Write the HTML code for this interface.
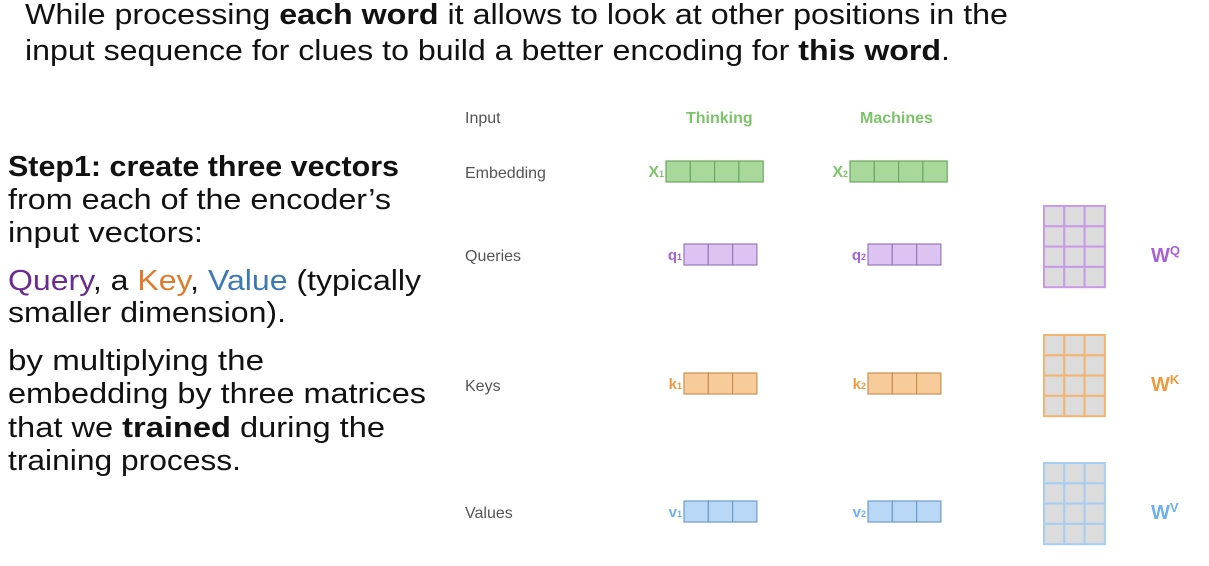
<!DOCTYPE html>
<html><head><meta charset="utf-8"><style>
html,body{margin:0;padding:0;background:#fff;width:1209px;height:566px;overflow:hidden}
svg{display:block}
.t{font-family:"Liberation Sans",sans-serif;font-size:29px;fill:#111}
.lab{font-family:"Liberation Sans",sans-serif;font-size:16px;fill:#555}
.hd{font-family:"Liberation Sans",sans-serif;font-size:16px;font-weight:bold;fill:#7dc36a}
</style></head><body>
<svg width="1209" height="566">
<g>
<text class="t" x="25" y="24" textLength="983" lengthAdjust="spacingAndGlyphs">While processing <tspan font-weight="bold">each word</tspan> it allows to look at other positions in the</text>
<text class="t" x="25" y="60" textLength="925" lengthAdjust="spacingAndGlyphs">input sequence for clues to build a better encoding for <tspan font-weight="bold">this word</tspan>.</text>
</g>
<g>
<text class="t" x="8" y="176" font-weight="bold" textLength="391" lengthAdjust="spacingAndGlyphs">Step1: create three vectors</text>
<text class="t" x="8" y="209" textLength="383" lengthAdjust="spacingAndGlyphs">from each of the encoder’s</text>
<text class="t" x="8" y="242" textLength="195" lengthAdjust="spacingAndGlyphs">input vectors:</text>
<text class="t" x="8" y="290" textLength="413" lengthAdjust="spacingAndGlyphs"><tspan fill="#6a2c91">Query</tspan>, a <tspan fill="#e07b2e">Key</tspan>, <tspan fill="#3c78b4">Value</tspan>  (typically</text>
<text class="t" x="8" y="322" textLength="278" lengthAdjust="spacingAndGlyphs">smaller dimension).</text>
<text class="t" x="8" y="370" textLength="256" lengthAdjust="spacingAndGlyphs">by multiplying the</text>
<text class="t" x="8" y="403" textLength="418" lengthAdjust="spacingAndGlyphs">embedding by three matrices</text>
<text class="t" x="8" y="437" textLength="377" lengthAdjust="spacingAndGlyphs">that we <tspan font-weight="bold">trained</tspan> during the</text>
<text class="t" x="8" y="470" textLength="233" lengthAdjust="spacingAndGlyphs">training process.</text>
</g>
<g>
<text class="lab" x="465" y="123">Input</text>
<text class="lab" x="465" y="178">Embedding</text>
<text class="lab" x="465" y="261">Queries</text>
<text class="lab" x="465" y="391">Keys</text>
<text class="lab" x="465" y="518">Values</text>
</g>
<text class="hd" x="686" y="123">Thinking</text>
<text class="hd" x="860" y="123">Machines</text>
<g id="vecs"></g>
<g id="mats"></g>
<g font-family="Liberation Sans,sans-serif" font-weight="bold">
<text x="1151" y="262" font-size="20" fill="#a661d6">W<tspan font-size="13" dy="-7">Q</tspan></text>
<text x="1151" y="391" font-size="20" fill="#ee9a3e">W<tspan font-size="13" dy="-7">K</tspan></text>
<text x="1151" y="519" font-size="20" fill="#6eb0ee">W<tspan font-size="13" dy="-7">V</tspan></text>
</g>
</svg>
<script>
const NS="http://www.w3.org/2000/svg";
const vecs=[
 {n:"x",i:1,x:666,y:161,c:4,f:"#a8d89a",s:"#6aa860",lc:"#7dc36a"},
 {n:"x",i:2,x:850,y:161,c:4,f:"#a8d89a",s:"#6aa860",lc:"#7dc36a"},
 {n:"q",i:1,x:684,y:244,c:3,f:"#dcc3f2",s:"#9a78b8",lc:"#a661d6"},
 {n:"q",i:2,x:868,y:244,c:3,f:"#dcc3f2",s:"#9a78b8",lc:"#a661d6"},
 {n:"k",i:1,x:684,y:373,c:3,f:"#f8cc9a",s:"#c99050",lc:"#ee9a3e"},
 {n:"k",i:2,x:868,y:373,c:3,f:"#f8cc9a",s:"#c99050",lc:"#ee9a3e"},
 {n:"v",i:1,x:684,y:501,c:3,f:"#b9d8f6",s:"#6f9cc8",lc:"#6eb0ee"},
 {n:"v",i:2,x:868,y:501,c:3,f:"#b9d8f6",s:"#6f9cc8",lc:"#6eb0ee"}];
const vg=document.getElementById('vecs');
vecs.forEach(v=>{
 const g=document.createElementNS(NS,'g');
 
 
 for(let k=0;k<v.c;k++){const r=document.createElementNS(NS,'rect');
  r.setAttribute('x',v.x+k*24.3);r.setAttribute('y',v.y);r.setAttribute('width',24.3);r.setAttribute('height',21);
  r.setAttribute('fill',v.f);r.setAttribute('stroke',v.s);r.setAttribute('stroke-width',1.2);g.appendChild(r);}
 const t=document.createElementNS(NS,'text');
 t.setAttribute('x',v.x-2);t.setAttribute('y',v.y+16);t.setAttribute('text-anchor','end');
 t.setAttribute('font-family','Liberation Sans,sans-serif');t.setAttribute('font-weight','bold');
 t.setAttribute('font-size',v.n=='x'?16:15);t.setAttribute('fill',v.lc);
 t.innerHTML=(v.n=='x'?'X':v.n)+'<tspan font-size="9">'+v.i+'</tspan>';g.appendChild(t);
 vg.appendChild(g);
});
const mats=[{n:"wq",y:206,s:"#c99ae6"},{n:"wk",y:335,s:"#f2b470"},{n:"wv",y:463,s:"#a6cdf2"}];
const mg=document.getElementById('mats');
mats.forEach(m=>{
 const g=document.createElementNS(NS,'g');
 
 
 for(let r=0;r<4;r++)for(let c=0;c<3;c++){const e=document.createElementNS(NS,'rect');
  e.setAttribute('x',1044+c*20.3);e.setAttribute('y',m.y+r*20.3);e.setAttribute('width',20.3);e.setAttribute('height',20.3);
  e.setAttribute('fill','#dcdcdc');e.setAttribute('stroke',m.s);e.setAttribute('stroke-width',2);g.appendChild(e);}
 mg.appendChild(g);
});
</script>
</body></html>
